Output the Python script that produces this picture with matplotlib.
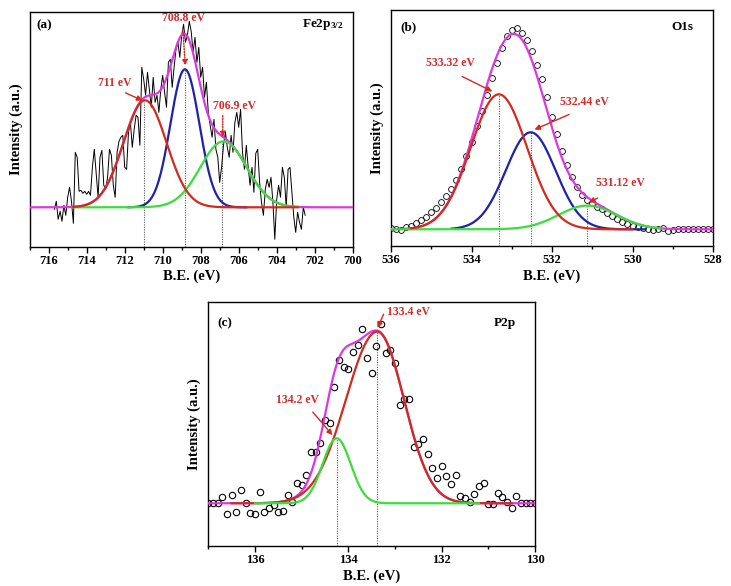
import numpy as np
import matplotlib
matplotlib.use('Agg')
from matplotlib import pyplot as plt
from matplotlib.ticker import MultipleLocator

plt.rcParams['font.family'] = 'Liberation Serif'
plt.rcParams['font.weight'] = 'bold'
plt.rcParams['mathtext.fontset'] = 'custom'
plt.rcParams['mathtext.bf'] = 'Liberation Serif:bold'
plt.rcParams['mathtext.rm'] = 'Liberation Serif:bold'
plt.rcParams['mathtext.default'] = 'bf'

RED = '#d22a1e'
BLUE = '#1f22aa'
GREEN = '#3ade3a'
MAG = '#dd38dd'
TXT = '#d42a2a'

# ---- (a) Fe2p3/2 : raw spectrum (0.1 eV steps from 715.7 eV) + fitted peaks
a_energy = np.round(np.arange(715.7, 702.45, -0.1), 2)
a_counts = [-2, 6, -12, -4, -14, 2, -8, 10, 20, 6,
            -16, 55, 50, 16, 17, 14, 16, 13, 16, 12,
            40, 58, 34, 10, 50, 57, 22, 18, 30, 58,
            52, 22, 10, 55, 66, 70, 72, 40, 38, 75,
            85, 60, 78, 92, 90, 62, 140, 128, 112, 135,
            118, 100, 130, 105, 112, 95, 118, 132, 115, 100,
            145, 148, 120, 140, 158, 165, 150, 172, 183, 165,
            172, 186, 176, 155, 170, 145, 160, 130, 140, 110,
            125, 95, 82, 70, 88, 58, 50, 25, 40, 62,
            75, 60, 50, 72, 55, 85, 95, 80, 98, 55,
            38, 62, 40, 22, 40, 15, 54, 58, 25, 5,
            -8, 18, 28, 20, 30, 5, -32, 8, 22, 10,
            40, 30, 0, 38, 40, 15, -10, -25, -5, -15,
            -22, 0, -8]
a_centers = [710.93, 708.83, 706.8]
a_heights = [107, 138, 66]
a_sigmas = [1.13, 0.76, 1.22]
a_labels = ['711 eV', '708.8 eV', '706.9 eV']

# ---- (b) O1s
b_energy = np.arange(536.0, 527.99, -0.125)
b_counts = [1, 0, -1, 2, 3, 6, 9, 12, 17, 21,
            27, 33, 40, 49, 60, 73, 87, 103, 118, 134,
            151, 166, 181, 193, 199, 201, 196, 189, 178, 164,
            150, 132, 112, 95, 78, 64, 52, 42, 34, 29,
            26, 22, 20, 16, 13, 10, 7, 5, 3, 2,
            1, 0, -1, 0, 1, -2, -1, 0, 0, 0,
            0, 0, 0, 0, 0]
b_centers = [533.32, 532.53, 531.12]
b_heights = [135, 97, 23.7]
b_sigmas = [0.70, 0.62, 0.72]
b_labels = ['533.32 eV', '532.44 eV', '531.12 eV']

# ---- (c) P2p
c_energy = np.round(np.arange(137.0, 129.95, -0.1), 2)
c_counts = [0, 0, 0, 6.7, -10.7, 8.3, -8.3, 13.3, 0, -9.3,
            -10.7, 11, -8.3, -5, -1.7, -8.3, -7.7, 8.3, 1, 20,
            18.3, 28.3, 51, 51, 60, 83.3, 80, 116.7, 143.3, 136.7,
            134, 151.7, 158.3, 174, 145, 130.7, 157.3, 179, 150.7, 153.3,
            140.7, 98.3, 104, 104, 56.7, 59.3, 64.3, 49, 35, 25,
            37.3, 27.3, 19, 28.3, 7.7, 5, 1.7, 9.3, 17.7, 20.7,
            -1, -1, 10.7, 6.7, 1.3, -4.3, 7.3, 0, 0, 0, 0]
c_centers = [133.38, 134.25]
c_heights = [171.7, 65]
c_sig_high = [0.67, 0.30]
c_sig_low = [0.57, 0.30]
c_labels = ['133.4 eV', '134.2 eV']


def peak(x, c, h, s_hi, s_lo=None):
    if s_lo is None:
        s_lo = s_hi
    s = np.where(x > c, s_hi, s_lo)
    return h * np.exp(-(x - c) ** 2 / (2 * s ** 2))


def style(ax, xlim, ylim):
    ax.set_xlim(xlim)
    ax.set_ylim(ylim)
    ax.set_yticks([])
    ax.xaxis.set_major_locator(MultipleLocator(2))
    ax.xaxis.set_minor_locator(MultipleLocator(1))
    ax.tick_params(axis='x', which='major', direction='out', length=4, width=1,
                   labelsize=9, pad=2)
    ax.tick_params(axis='x', which='minor', direction='out', length=2.5, width=1)
    for lab in ax.get_xticklabels():
        lab.set_fontweight('bold')
    for sp in ax.spines.values():
        sp.set_linewidth(1.0)
    ax.set_xlabel('B.E. (eV)', fontsize=10.5, fontweight='bold', labelpad=2)
    ax.set_ylabel('Intensity (a.u.)', fontsize=10.5, fontweight='bold', labelpad=5)


def arrow(ax, tail, tip, dotted=False):
    ax.annotate('', xy=tip, xytext=tail,
                arrowprops=dict(arrowstyle='-|>', color=RED, lw=1.0,
                                mutation_scale=8,
                                linestyle=(0, (1, 1)) if dotted else '-'))


def vline(ax, x, top, bottom):
    ax.plot([x, x], [bottom, top], ls=(0, (1, 1.2)), color='0.35', lw=0.8, zorder=1)


fig = plt.figure(figsize=(7.31, 5.86), dpi=100)

# ---------------- panel (a)
ax = fig.add_axes([0.0406, 0.579, 0.4419, 0.4005])
ylo, yhi = -39.4, 195.3
ax.plot(a_energy, a_counts, color='black', lw=0.7, zorder=2)
xs = np.linspace(717, 700, 800)
env = sum(peak(xs, c, h, s) for c, h, s in zip(a_centers, a_heights, a_sigmas))
ax.plot(xs, env, color=MAG, lw=1.6, zorder=3)
ranges = [(714.7, 702.9), (711.8, 705.6), (714.7, 702.9)]
colors = [RED, BLUE, GREEN]
z_a = [6, 4, 5]
for i in range(3):
    xr = np.linspace(ranges[i][0], ranges[i][1], 400)
    ax.plot(xr, peak(xr, a_centers[i], a_heights[i], a_sigmas[i]),
            color=colors[i], lw=1.6, zorder=z_a[i])
for c, h in zip([711.0, 708.8, 706.87], [105, 138, 66]):
    vline(ax, c, h, ylo)
ax.text(712.51, 124, a_labels[0], color=TXT, fontsize=8.5, ha='center', va='center')
arrow(ax, (712.09, 115.6), (710.93, 105.6))
ax.text(708.93, 189, a_labels[1], color=TXT, fontsize=8.5, ha='center', va='center')
arrow(ax, (708.95, 181), (708.8, 139), dotted=True)
ax.text(706.2, 101, a_labels[2], color=TXT, fontsize=8.5, ha='center', va='center')
arrow(ax, (706.84, 94.6), (706.84, 67.3), dotted=True)
ax.text(0.02, 0.945, '(a)', transform=ax.transAxes, fontsize=9.5, va='center')
ax.text(0.97, 0.945, r'Fe2p$_{3/2}$', transform=ax.transAxes, fontsize=9.5,
        va='center', ha='right')
style(ax, (717, 700), (ylo, yhi))

# ---------------- panel (b)
ax = fig.add_axes([0.5349, 0.5802, 0.4405, 0.4027])
ylo, yhi = -16.7, 219.3
ax.plot(b_energy, b_counts, 'o', mfc='none', mec='black', mew=0.6, ms=4.2, zorder=2)
xs = np.linspace(536, 528, 800)
env = sum(peak(xs, c, h, s) for c, h, s in zip(b_centers, b_heights, b_sigmas))
ax.plot(xs, env, color=MAG, lw=1.6, zorder=3)
ranges = [(535.5, 530.0), (534.5, 529.7), (536.0, 529.3)]
for i in range(3):
    xr = np.linspace(ranges[i][0], ranges[i][1], 400)
    ax.plot(xr, peak(xr, b_centers[i], b_heights[i], b_sigmas[i]),
            color=colors[i], lw=1.6, zorder=z_a[i])
for c, h in zip(b_centers, b_heights):
    vline(ax, c, h, ylo)
ax.text(534.53, 166, b_labels[0], color=TXT, fontsize=8.5, ha='center', va='center')
arrow(ax, (534.29, 154), (533.42, 136.6))
ax.text(531.2, 127, b_labels[1], color=TXT, fontsize=8.5, ha='center', va='center')
arrow(ax, (531.51, 116), (532.5, 98.6))
ax.text(530.29, 46, b_labels[2], color=TXT, fontsize=8.5, ha='center', va='center')
arrow(ax, (530.81, 32.6), (531.14, 25.3))
ax.text(0.028, 0.928, '(b)', transform=ax.transAxes, fontsize=9.5, va='center')
ax.text(0.938, 0.928, 'O1s', transform=ax.transAxes, fontsize=9.5,
        va='center', ha='right')
style(ax, (536, 528), (ylo, yhi))

# ---------------- panel (c)
ax = fig.add_axes([0.285, 0.0683, 0.4469, 0.4169])
ylo, yhi = -42.7, 201.6
ax.plot(c_energy, c_counts, 'o', mfc='none', mec='black', mew=0.8, ms=4.6, zorder=2)
xs = np.linspace(137, 130, 800)
env = sum(peak(xs, c, h, sh, sl) for c, h, sh, sl in
          zip(c_centers, c_heights, c_sig_high, c_sig_low))
ax.plot(xs, env, color=MAG, lw=1.6, zorder=3)
xr = np.linspace(136.5, 130.5, 400)
ax.plot(xr, peak(xr, c_centers[0], c_heights[0], c_sig_high[0], c_sig_low[0]),
        color=RED, lw=1.6, zorder=4)
xr = np.linspace(136.0, 131.2, 400)
ax.plot(xr, peak(xr, c_centers[1], c_heights[1], c_sig_high[1], c_sig_low[1]),
        color=GREEN, lw=1.6, zorder=5)
for c, h in zip(c_centers, c_heights):
    vline(ax, c, h, ylo)
ax.text(132.71, 191.6, c_labels[0], color=TXT, fontsize=8.5, ha='center', va='center')
arrow(ax, (133.22, 191.6), (133.40, 173))
ax.text(135.09, 103, c_labels[1], color=TXT, fontsize=8.5, ha='center', va='center')
arrow(ax, (134.8, 93.3), (134.3, 66))
ax.text(0.027, 0.913, '(c)', transform=ax.transAxes, fontsize=9.5, va='center')
ax.text(0.94, 0.913, 'P2p', transform=ax.transAxes, fontsize=9.5,
        va='center', ha='right')
style(ax, (137, 130), (ylo, yhi))

fig.savefig('out.png', dpi=100)
